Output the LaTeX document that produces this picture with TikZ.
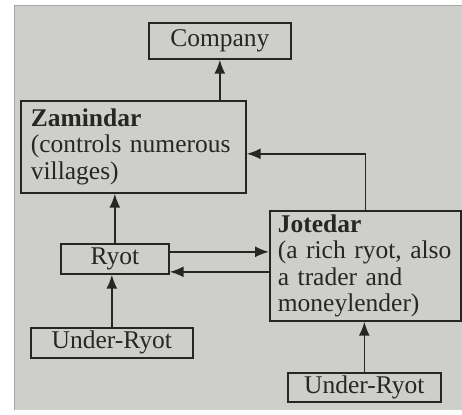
\documentclass[tikz,border=0pt]{standalone}
\usepackage{fontspec}
\setmainfont{Liberation Serif}
\usetikzlibrary{arrows.meta}
\definecolor{page}{RGB}{206,206,203}
\definecolor{ink}{RGB}{38,38,38}
\begin{document}
\begin{tikzpicture}[x=1pt,y=-1pt,
  box/.style={draw=ink, line width=1.7pt, text=ink, inner sep=0pt, anchor=north west,
    font=\fontsize{25.5pt}{26.5pt}\selectfont},
  multi/.style={box, align=left, inner xsep=9pt},
  arr/.style={draw=ink, line width=1.7pt, -{Latex[length=14pt,width=11pt]}}]
\useasboundingbox (0,0) rectangle (462,414);
\fill[white] (0,0) rectangle (462,414);
\fill[page] (14,5) rectangle (462,410);
\draw[gray!70, line width=0.8pt] (14,410) -- (14,5) -- (462,5);

\node[box, minimum width=142pt, minimum height=36pt] (comp) at (148,22) {Company};
\node[multi, minimum width=225pt, minimum height=92pt, text width=205pt] (zam) at (20,100)
  {\textbf{Zamindar}\\(controls numerous\\villages)};
\node[box, minimum width=108pt, minimum height=30pt] (ryot) at (60,243) {Ryot};
\node[multi, minimum width=191pt, minimum height=110pt, text width=175pt, inner xsep=8pt] (jot) at (269,210)
  {\textbf{Jotedar}\\(a rich ryot, also\\a trader and\\moneylender)};
\node[box, minimum width=162pt, minimum height=30pt] (url) at (30,327) {Under-Ryot};
\node[box, minimum width=153pt, minimum height=29pt] (urr) at (287,372) {Under-Ryot};

\draw[arr] (comp.south |- zam.north) -- (comp.south);
\draw[arr] (jot.north) |- ([yshift=-7pt]zam.east);
\draw[arr] (ryot.north) -- (ryot.north |- zam.south);
\draw[arr] ([yshift=7pt]ryot.east) -- ([yshift=7pt]ryot.east -| jot.west);
\draw[arr] ([yshift=-13pt]ryot.east -| jot.west) -- ([yshift=-13pt]ryot.east);
\draw[arr] (url.north) -- (url.north |- ryot.south);
\draw[arr] (urr.north) -- (urr.north |- jot.south);
\end{tikzpicture}
\end{document}
